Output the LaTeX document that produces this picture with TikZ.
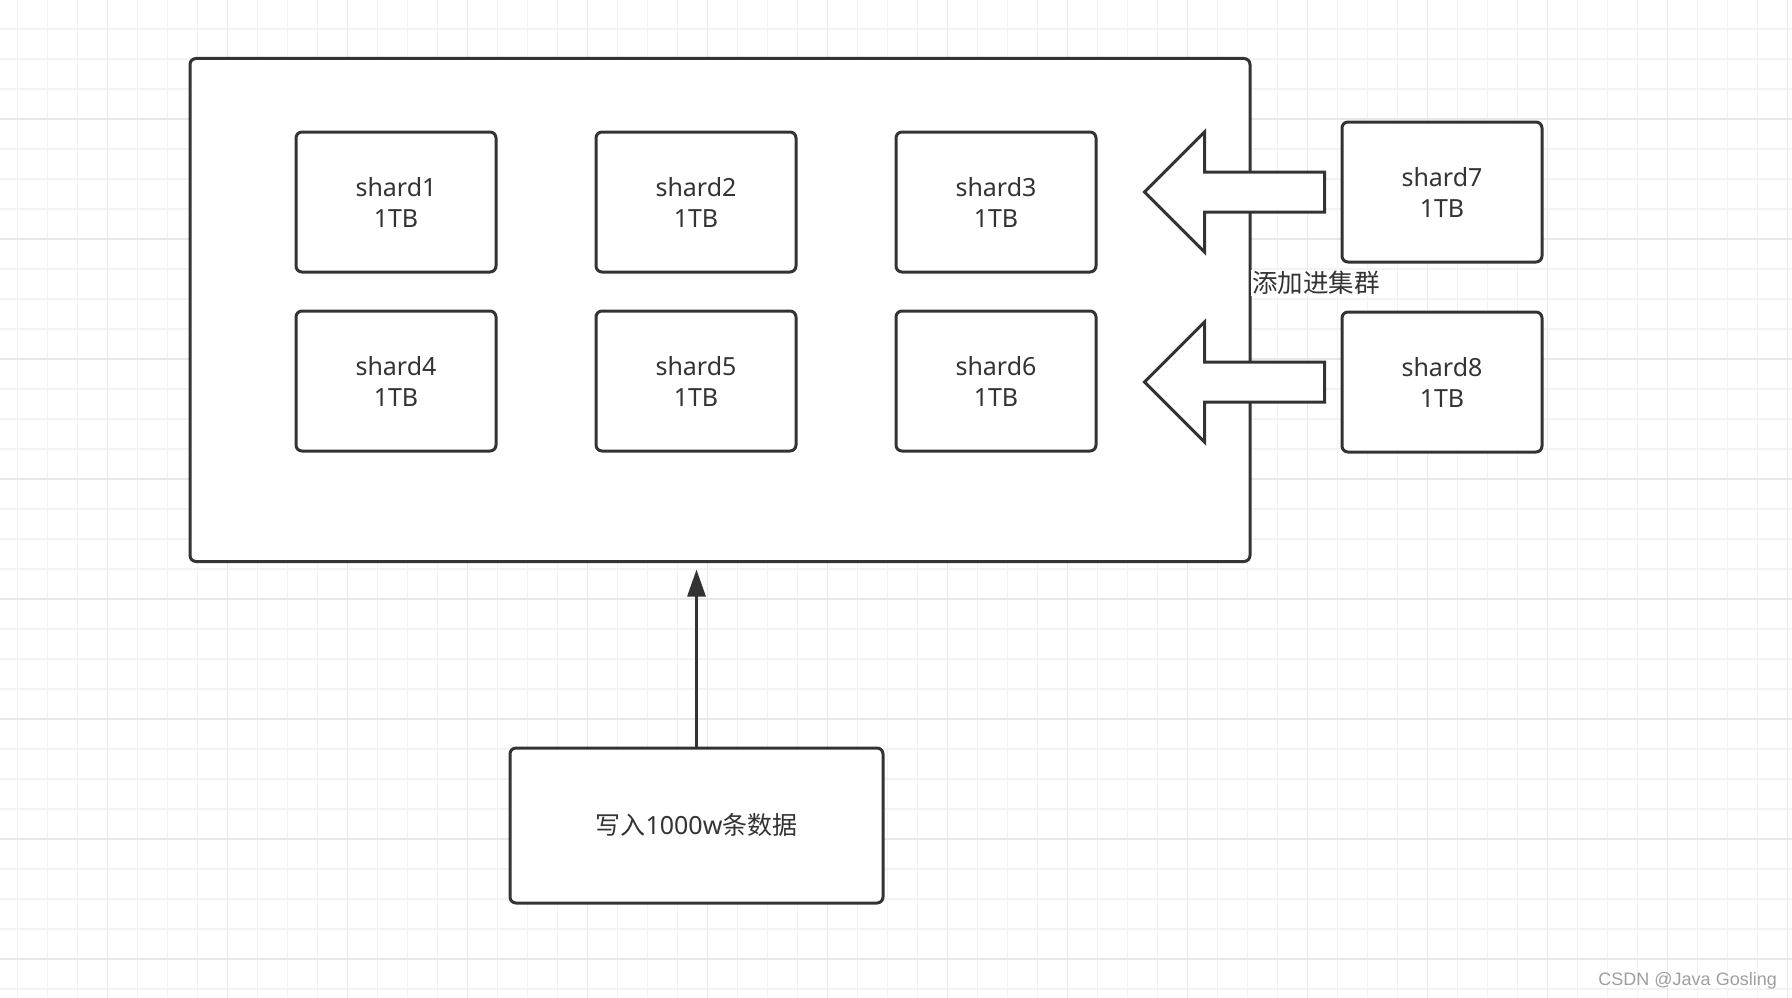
\documentclass[tikz,border=0pt]{standalone}
\usepackage{fontspec}
\setmainfont{Noto Sans}
\newfontfamily\cjk{Noto Sans CJK SC}
\newfontfamily\wmfont{Liberation Sans}
\usetikzlibrary{arrows.meta,calc}
\definecolor{ink}{HTML}{333333}
\definecolor{gridminor}{HTML}{F3F3F3}
\definecolor{gridmajor}{HTML}{E8E8E8}
\begin{document}
\begin{tikzpicture}[x=1pt,y=-1pt,
  box/.style={draw=ink, line width=3pt, rounded corners=6pt, fill=white, text=ink, align=center, font=\fontsize{25}{31}\selectfont},
  shard/.style={box, minimum width=200pt, minimum height=140pt},
  blockarrow/.style={draw=ink, line width=3pt, fill=white, line join=miter},
  minorline/.style={gridminor, line width=1.5pt},
  majorline/.style={gridmajor, line width=1.5pt}
]
\useasboundingbox (0,0) rectangle (1792,998);
\fill[white] (0,0) rectangle (1792,998);
% grid
\foreach \i in {0,...,59} \draw[minorline] ({17.3+30*\i},0) -- ({17.3+30*\i},998);
\foreach \j in {0,...,32} \draw[minorline] (0,{29+30*\j}) -- (1792,{29+30*\j});
\foreach \i in {0,...,14} \draw[majorline] ({107.3+120*\i},0) -- ({107.3+120*\i},998);
\foreach \j in {0,...,7} \draw[majorline] (0,{119+120*\j}) -- (1792,{119+120*\j});

% cluster
\node[box, minimum width=1060pt, minimum height=503pt] (cluster) at (720,310) {};
\node[shard] (s1) at (396,202) {shard1\\1TB};
\node[shard] (s2) at (696,202) {shard2\\1TB};
\node[shard] (s3) at (996,202) {shard3\\1TB};
\node[shard] (s4) at (396,381) {shard4\\1TB};
\node[shard] (s5) at (696,381) {shard5\\1TB};
\node[shard] (s6) at (996,381) {shard6\\1TB};

% new shards
\node[shard] (s7) at (1442,192) {shard7\\1TB};
\node[shard] (s8) at (1442,382) {shard8\\1TB};

% block arrows
\draw[blockarrow] ([xshift=-16pt]s7.west) ++(0,-20) -- ++(-120,0) -- ++(0,-40) -- ++(-60,60) -- ++(60,60) -- ++(0,-40) -- ++(120,0) -- cycle;
\draw[blockarrow] ([xshift=-16pt]s8.west) ++(0,-20) -- ++(-120,0) -- ++(0,-40) -- ++(-60,60) -- ++(60,60) -- ++(0,-40) -- ++(120,0) -- cycle;

\node[fill=white, text=ink, anchor=west, inner sep=1pt, font=\cjk\fontsize{25.5}{30}\selectfont] (lbl) at (1251,283) {添加进集群};

% writer
\node[box, minimum width=373pt, minimum height=155pt] (write) at (696.5,825.5) {{\cjk 写入}1000w{\cjk 条数据}};
\draw[ink, line width=3pt, -{Triangle[length=27pt,width=18pt]}, shorten >=6.5pt] (write.north) -- (write.north |- cluster.south);

% watermark
\node[anchor=base east, text=gray!75, inner sep=0pt, font=\wmfont\fontsize{18}{20}\selectfont] (wm) at (1777,985) {CSDN @Java Gosling};
\end{tikzpicture}
\end{document}
